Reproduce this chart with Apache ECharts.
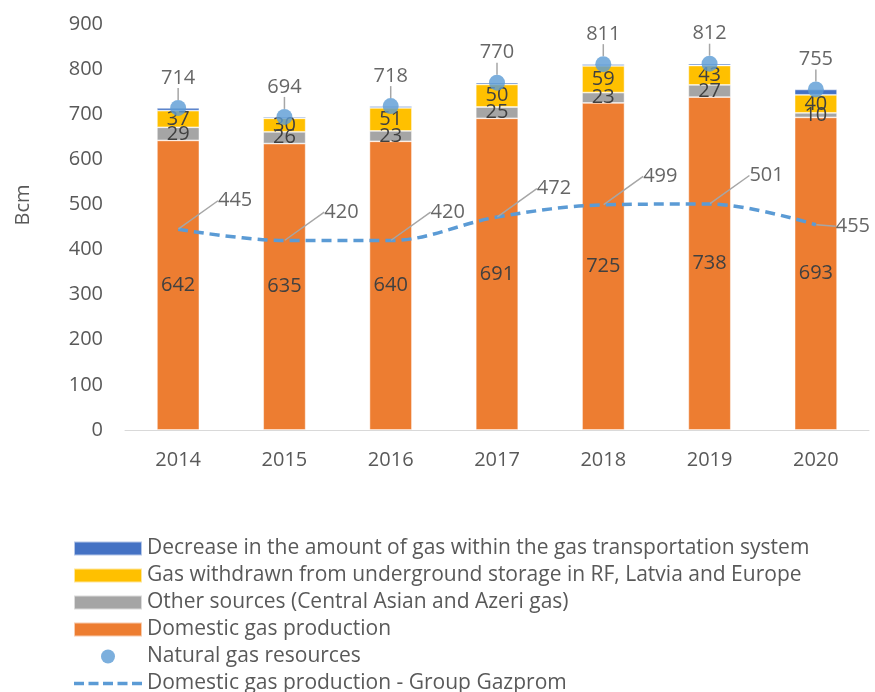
<!DOCTYPE html>
<html>
<head>
<meta charset="utf-8">
<script src="https://cdn.jsdelivr.net/npm/echarts@6/dist/echarts.min.js"></script>
<style>html,body{margin:0;padding:0;background:#fff;}#c{width:875px;height:692px;}</style>
</head>
<body>
<div id="c"></div>
<script>
var years = ['2014','2015','2016','2017','2018','2019','2020'];
var domestic = [642,635,640,691,725,738,693];
var other = [29,26,23,25,23,27,10];
var withdrawn = [37,30,51,50,59,43,40];
var decrease = [6,3,4,4,4,4,12];
var resources = [714,694,718,770,811,812,755];
var gazprom = [445,420,420,472,499,501,455];
var yTicks = [0,900,100];

var FONT = 'Open Sans';
var TXT = '#404040';
var AX = '#595959';

var DASH_ICON = 'path://M0,0L0.01,0L0.01,0.01L0,0.01Z M0,14L0.01,14L0.01,13.99L0,13.99Z' +
  'M0,5.3L10,5.3L10,8.7L0,8.7Z M14.5,5.3L24.5,5.3L24.5,8.7L14.5,8.7Z M29,5.3L39,5.3L39,8.7L29,8.7Z' +
  'M43.5,5.3L53.5,5.3L53.5,8.7L43.5,8.7Z M58,5.3L68,5.3L68,8.7L58,8.7Z';

var chart = echarts.init(document.getElementById('c'));
var barLabel = {show:true, position:'inside', color:TXT, fontSize:20, fontFamily:FONT};
var barBorder = {borderColor:'rgba(255,255,255,0.6)', borderWidth:0.8};
var LINE_NAME = 'Domestic gas production - Group Gazprom';
chart.setOption({
  animation:false,
  textStyle:{fontFamily:FONT},
  grid:{left:125, right:6, top:24, bottom:262},
  xAxis:{type:'category', data:years,
    axisLine:{lineStyle:{color:'#d9d9d9'}}, axisTick:{show:false},
    axisLabel:{color:AX, fontSize:20, margin:20, fontFamily:FONT}},
  yAxis:{type:'value', min:yTicks[0], max:yTicks[1], interval:yTicks[2],
    name:'Bcm', nameLocation:'middle', nameGap:92, nameRotate:90,
    nameTextStyle:{color:AX, fontSize:20, fontFamily:FONT, padding:[0,0,0,44]},
    axisLine:{show:false}, axisTick:{show:false}, splitLine:{show:false},
    axisLabel:{color:AX, fontSize:20, margin:22, fontFamily:FONT}},
  legend:{orient:'vertical', left:73, top:538, padding:0, height:200,
    itemWidth:68, itemHeight:14, itemGap:6,
    textStyle:{color:AX, fontSize:21, fontFamily:FONT},
    data:[
      {name:'Decrease in the amount of gas within the gas transportation system', icon:'rect'},
      {name:'Gas withdrawn from underground storage in RF, Latvia and Europe', icon:'rect'},
      {name:'Other sources (Central Asian and Azeri gas)', icon:'rect'},
      {name:'Domestic gas production', icon:'rect'},
      {name:'Natural gas resources', icon:'circle'},
      {name:LINE_NAME, icon:DASH_ICON}
    ]},
  series:[
    {name:'Domestic gas production', type:'bar', stack:'s', data:domestic, barWidth:'40%',
      itemStyle:Object.assign({color:'#ED7D31'}, barBorder), label:barLabel},
    {name:'Other sources (Central Asian and Azeri gas)', type:'bar', stack:'s', data:other,
      itemStyle:Object.assign({color:'#A5A5A5'}, barBorder), label:barLabel},
    {name:'Gas withdrawn from underground storage in RF, Latvia and Europe', type:'bar', stack:'s', data:withdrawn,
      itemStyle:Object.assign({color:'#FFC000'}, barBorder), label:barLabel},
    {name:'Decrease in the amount of gas within the gas transportation system', type:'bar', stack:'s', data:decrease,
      itemStyle:Object.assign({color:'#4472C4'}, barBorder)},
    {name:LINE_NAME, type:'line', data:gazprom, smooth:0.35,
      symbol:'none', showSymbol:false, z:5,
      lineStyle:{color:'#5B9BD5', width:3.5, type:[10,6]},
      itemStyle:{color:'#5B9BD5'}},
    {name:'gazpromLabels', type:'scatter', data:gazprom, symbol:'circle', symbolSize:1, z:5,
      itemStyle:{color:'rgba(0,0,0,0)'}, silent:true, legendHoverLink:false,
      label:{show:true, position:'top', distance:5, color:TXT, fontSize:20, fontFamily:FONT},
      labelLine:{show:true, lineStyle:{color:'#A6A6A6', width:1.5}},
      labelLayout:function(p){
        if (p.dataIndex === years.length-1) return {dx:37, dy:17};
        return {dx:57, dy:-13};
      }},
    {name:'Natural gas resources', type:'scatter', data:resources, symbol:'circle', symbolSize:16, z:6,
      itemStyle:{color:'#5B9BD5'},
      label:{show:true, position:'top', distance:5, color:TXT, fontSize:20, fontFamily:FONT},
      labelLine:{show:true, lineStyle:{color:'#A6A6A6', width:1.5}},
      labelLayout:{dy:-7}}
  ]
});
</script>
</body>
</html>
